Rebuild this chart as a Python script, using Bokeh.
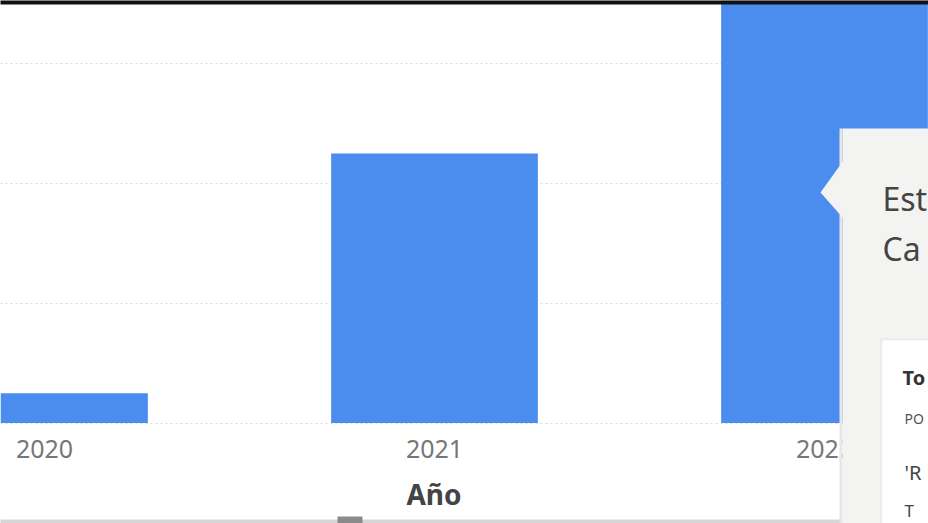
from bokeh.plotting import figure
from bokeh.models import Range1d, FixedTicker, BoxAnnotation, PolyAnnotation, Label
from bokeh.embed import file_html
from bokeh.resources import INLINE

# ---- data ----
years = [2020, 2021, 2022]
values = [12.4, 112.3, 185.0]
grid_ticks = [0, 50, 100, 150]
x_axis_label = "Año"
tooltip_title = ["Est", "Ca"]
tooltip_rows = ["To", "PO", "'R", "T"]

# ---- layout constants ----
W, H = 928, 523
PX_PER_YEAR = 390.0
PX_PER_UNIT = 2.4
BASE_PX = 422.5          # pixel row of the value 0
x_start = years[0] - 44 / PX_PER_YEAR
x_end = x_start + W / PX_PER_YEAR
y_start = -(H - BASE_PX) / PX_PER_UNIT
y_end = BASE_PX / PX_PER_UNIT

def dx(px):
    return x_start + px / PX_PER_YEAR

def dy(py):
    return (BASE_PX - py) / PX_PER_UNIT

p = figure(width=W, height=H, output_backend="svg", toolbar_location=None,
           x_range=Range1d(x_start, x_end), y_range=Range1d(y_start, y_end),
           min_border=0)
p.outline_line_color = None
p.background_fill_color = "white"
p.border_fill_color = "white"

p.vbar(x=years, top=values, bottom=0, width=0.53, fill_color="#4A8DEF", line_color=None)

# axes
p.yaxis.visible = False
xa = p.xaxis[0]
xa.fixed_location = 0
xa.ticker = FixedTicker(ticks=years)
xa.axis_line_color = None
xa.major_tick_line_color = None
xa.minor_tick_line_color = None
xa.major_label_text_font = "Noto Sans"
xa.major_label_text_font_size = "25px"
xa.major_label_text_color = "#777777"
xa.major_label_standoff = 11

p.add_layout(Label(x=dx(433.5), y=dy(493), text=x_axis_label, text_font="Noto Sans",
                   text_font_size="28px", text_font_style="bold", text_color="#444444",
                   text_align="center", text_baseline="alphabetic"))

p.xgrid.visible = False
p.ygrid.ticker = FixedTicker(ticks=grid_ticks)
p.ygrid.grid_line_color = "#d9d9d9"
p.ygrid.grid_line_dash = "2 3"
p.ygrid.grid_line_width = 1

# screen frame edges (black band on top, grey line at bottom)
p.add_layout(BoxAnnotation(left=dx(-2), right=dx(930), top=dy(-2), bottom=dy(4),
                           fill_color="#111111", fill_alpha=1, line_color=None, level="overlay"))
p.add_layout(BoxAnnotation(left=dx(-2), right=dx(842), top=dy(519), bottom=dy(525),
                           fill_color="#d6d6d6", fill_alpha=1, line_color=None, level="overlay"))
p.add_layout(BoxAnnotation(left=dx(337), right=dx(362), top=dy(516), bottom=dy(525),
                           fill_color="#8a8a8a", fill_alpha=1, line_color=None, level="overlay"))

# tooltip overlay
p.add_layout(BoxAnnotation(left=dx(839), right=dx(842), top=dy(128), bottom=dy(525),
                           fill_color="#e6e6e4", fill_alpha=1, line_color=None, level="overlay"))
p.add_layout(BoxAnnotation(left=dx(842), right=dx(930), top=dy(128), bottom=dy(525),
                           fill_color="#f3f3f1", fill_alpha=1, line_color=None, level="overlay"))
p.add_layout(PolyAnnotation(xs=[dx(843), dx(820), dx(843)], ys=[dy(160), dy(192), dy(218)],
                            fill_color="#f3f3f1", fill_alpha=1, line_color=None, level="overlay"))
p.add_layout(BoxAnnotation(left=dx(881), right=dx(932), top=dy(339), bottom=dy(527),
                           fill_color="white", fill_alpha=1, line_color="#cfcfcf", line_width=2,
                           level="overlay"))
title_y = [198, 248]
for t, yy in zip(tooltip_title, title_y):
    p.add_layout(Label(x=dx(882), y=dy(yy), text=t, text_font="Noto Sans", text_font_size="32px",
                       text_color="#444444", text_baseline="alphabetic", level="overlay"))
row_specs = [(377, "20px", "bold", "#333333", 902), (418, "14px", "normal", "#555555", 904),
             (472, "20px", "normal", "#444444", 904), (510, "17px", "normal", "#444444", 904)]
for t, (yy, fs, st, col, xx) in zip(tooltip_rows, row_specs):
    p.add_layout(Label(x=dx(xx), y=dy(yy), text=t, text_font="Noto Sans", text_font_size=fs,
                       text_font_style=st, text_color=col, text_baseline="alphabetic", level="overlay"))

open("out.html", "w").write(file_html(p, INLINE))
